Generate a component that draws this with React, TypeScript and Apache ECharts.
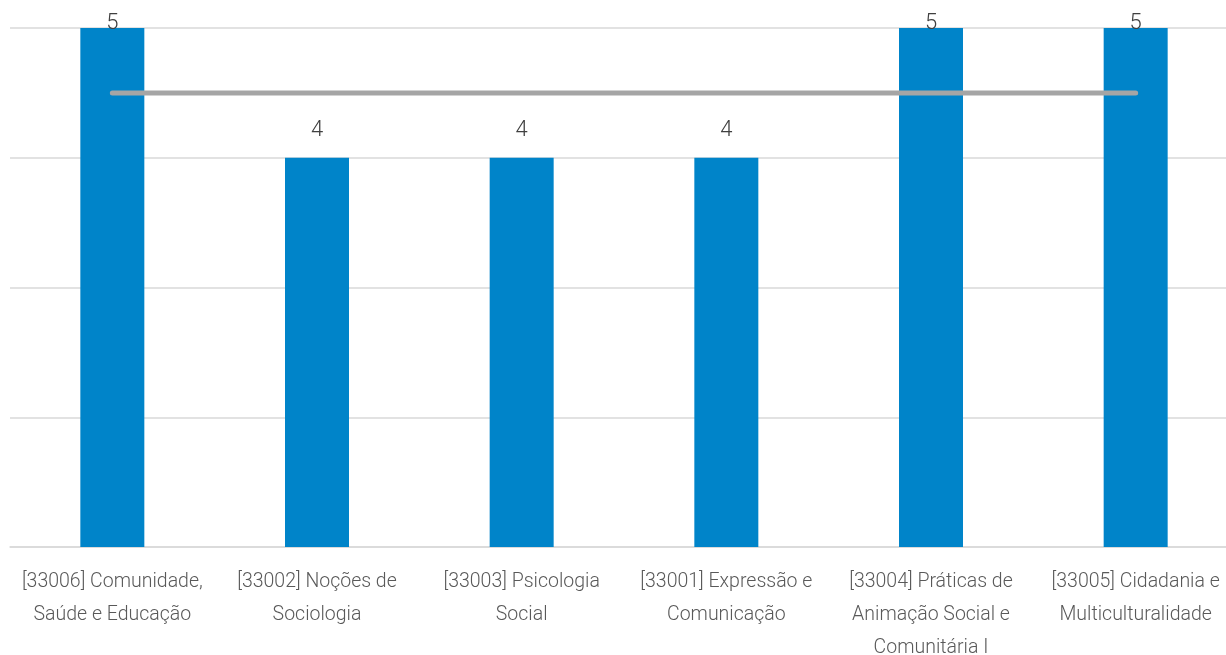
import React, { useEffect, useRef } from "react";
import * as echarts from "echarts";

const categories = [
  "[33006] Comunidade,\nSaúde e Educação",
  "[33002] Noções de\nSociologia",
  "[33003] Psicologia\nSocial",
  "[33001] Expressão e\nComunicação",
  "[33004] Práticas de\nAnimação Social e\nComunitária I",
  "[33005] Cidadania e\nMulticulturalidade",
];
const values = [5, 4, 4, 4, 5, 5];
const averageLine = [4.5, 4.5, 4.5, 4.5, 4.5, 4.5];
const yMin = 1;
const yMax = 5;

export default function App() {
  const ref = useRef<HTMLDivElement>(null);
  useEffect(() => {
    if (!ref.current) return;
    const chart = echarts.init(ref.current, undefined, { renderer: "svg" });
    const font = "Roboto, sans-serif";
    chart.setOption({
      animation: false,
      grid: {
        left: 10,
        width: 1228,
        top: 28,
        height: 519,
        containLabel: false,
        outerBoundsMode: "none",
      },
      xAxis: {
        type: "category",
        data: categories,
        axisTick: { show: false },
        axisLine: { lineStyle: { color: "#d9d9d9", width: 1.5 } },
        axisLabel: {
          color: "#595959",
          fontFamily: font,
          fontSize: 19.5,
          fontWeight: 300,
          lineHeight: 33,
          margin: 17,
          interval: 0,
          hideOverlap: false,
        },
      },
      yAxis: {
        type: "value",
        min: yMin,
        max: yMax,
        interval: 1,
        axisLabel: { show: false },
        axisLine: { show: false },
        axisTick: { show: false },
        splitLine: { lineStyle: { color: "#d9d9d9", width: 1.5 } },
      },
      series: [
        {
          type: "bar",
          barWidth: 64,
          data: values.map((v) => ({
            value: v,
            label: {
              show: true,
              position: "top",
              distance: v === yMax ? -4 : 18,
            },
          })),
          itemStyle: { color: "#0084c9" },
          label: {
            color: "#404040",
            fontFamily: font,
            fontSize: 22,
            fontWeight: 300,
          },
          z: 2,
        },
        {
          type: "line",
          data: averageLine,
          symbol: "none",
          lineStyle: { color: "#a5a5a5", width: 5, cap: "round" },
          z: 3,
        },
      ],
    });
    return () => chart.dispose();
  }, []);
  return (
    <div
      ref={ref}
      style={{ position: "fixed", left: 0, top: 0, width: 1226, height: 655, overflow: "hidden" }}
    />
  );
}
